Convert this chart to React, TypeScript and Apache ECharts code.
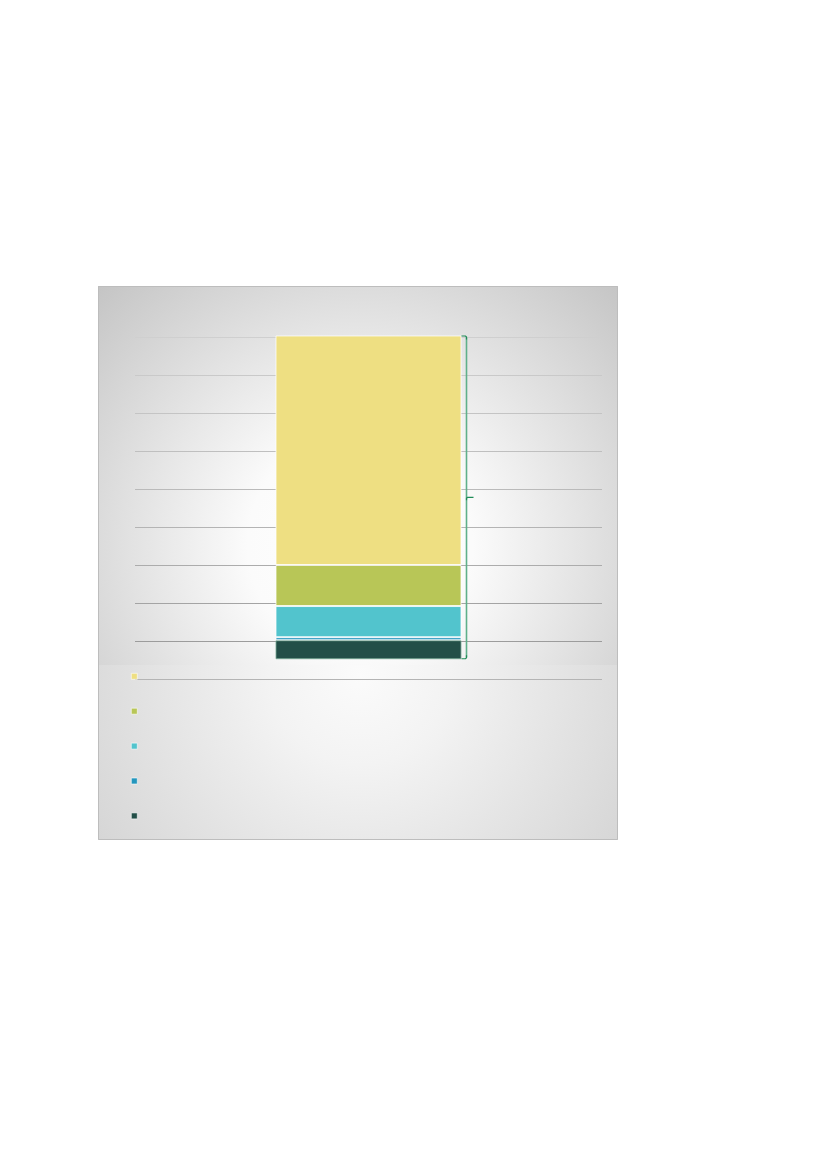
import {useEffect, useRef} from 'react';
import * as echarts from 'echarts';

// single stacked column (gridline step = 10)
const categories = ['Total'];
const seriesNames = ['Segment 1', 'Segment 2', 'Segment 3', 'Segment 4', 'Segment 5'];
const seriesValues = [5.0, 0.8, 8.2, 10.8, 60.4];
const seriesColors = ['#234f48', '#2496bd', '#52c4cd', '#b8c657', '#eedf82'];
const baseOffset = [5.2];
const axisTicks = [0, 10, 20, 30, 40, 50, 60, 70, 80, 90];

const gridColors = ['#b4b4b4', '#9c9c9c', '#a4a4a4', '#acacac', '#b4b4b4', '#bababa', '#bfbfbf', '#c4c4c4', '#c9c9c9', '#cfcfcf'];

export default function App() {
    const ref = useRef<HTMLDivElement | null>(null);

    useEffect(() => {
        if (!ref.current) return;
        const chart = echarts.init(ref.current, undefined, {renderer: 'svg'});
        const barWidth = 186;

        chart.setOption({
            animation: false,
            graphic: [
                {
                    id: 'bgTop', type: 'rect', z: -10, silent: true,
                    shape: {x: 98, y: 286, width: 520, height: 379},
                    style: {fill: new echarts.graphic.RadialGradient(360, 545, 375, [
                        {offset: 0, color: '#ffffff'},
                        {offset: 0.3, color: '#fbfbfb'},
                        {offset: 1, color: '#c3c3c3'}
                    ], true)}
                },
                {
                    id: 'bgBottom', type: 'rect', z: -10, silent: true,
                    shape: {x: 98, y: 665, width: 520, height: 175},
                    style: {fill: new echarts.graphic.RadialGradient(360, 675, 360, [
                        {offset: 0, color: '#fbfbfb'},
                        {offset: 0.25, color: '#f3f3f3'},
                        {offset: 1, color: '#cfcfcf'}
                    ], true)}
                },
                {
                    id: 'frame', type: 'rect', z: -9, silent: true,
                    shape: {x: 98.5, y: 286.5, width: 519, height: 553},
                    style: {fill: 'none', stroke: '#bdbdbd', lineWidth: 1}
                }
            ],
            grid: {left: 135, right: 225, top: 337, bottom: 490},
            legend: {
                orient: 'vertical',
                left: 131,
                top: 673,
                padding: 0,
                itemWidth: 6,
                itemHeight: 6,
                itemGap: 28.3,
                icon: 'rect',
                data: [...seriesNames].reverse(),
                formatter: () => '',
                itemStyle: {borderColor: '#ffffff', borderWidth: 0.6},
                selectedMode: false
            },
            xAxis: {
                type: 'category',
                data: categories,
                axisLine: {show: false},
                axisTick: {show: false},
                axisLabel: {show: false}
            },
            yAxis: {
                type: 'value',
                min: axisTicks[0],
                max: axisTicks[axisTicks.length - 1],
                interval: axisTicks[1] - axisTicks[0],
                axisLabel: {show: false},
                axisLine: {show: false},
                axisTick: {show: false},
                splitLine: {lineStyle: {color: gridColors, width: 1}}
            },
            series: [
                {
                    name: 'base',
                    type: 'bar',
                    stack: 'total',
                    data: baseOffset,
                    barWidth,
                    clip: false,
                    itemStyle: {color: 'transparent'},
                    silent: true
                },
                ...seriesNames.map((name, i) => ({
                    name,
                    type: 'bar',
                    stack: 'total',
                    data: [seriesValues[i]],
                    barWidth,
                    clip: false,
                    itemStyle: {
                        color: seriesColors[i],
                        borderColor: i === 0 ? 'rgba(120,170,150,0.8)' : 'rgba(255,255,255,0.75)',
                        borderWidth: 1
                    }
                }))
            ]
        });

        // bracket beside the column, placed through the axes
        const total = seriesValues.reduce((a, b) => a + b, 0);
        const yTop = chart.convertToPixel({yAxisIndex: 0}, baseOffset[0] + total) as number;
        const yBot = chart.convertToPixel({yAxisIndex: 0}, baseOffset[0]) as number;
        const xc = chart.convertToPixel({xAxisIndex: 0}, categories[0]) as number;
        const xr = xc + barWidth / 2;
        const bx = xr + 5;
        const mid = (yTop + yBot) / 2;

        chart.setOption({
            graphic: [
                {
                    id: 'brLine', type: 'line', z: 5, silent: true,
                    shape: {x1: bx, y1: yTop + 2, x2: bx, y2: yBot - 2},
                    style: {stroke: '#5fb08a', lineWidth: 1.6}
                },
                {
                    id: 'brTop', type: 'polyline', z: 6, silent: true,
                    shape: {points: [[xr, yTop + 0.5], [bx - 1, yTop + 0.5], [bx, yTop + 1.5], [bx, yTop + 4]]},
                    style: {stroke: '#1f8c57', lineWidth: 1.2, fill: 'none'}
                },
                {
                    id: 'brBottom', type: 'polyline', z: 6, silent: true,
                    shape: {points: [[xr, yBot - 0.5], [bx - 1, yBot - 0.5], [bx, yBot - 1.5], [bx, yBot - 4]]},
                    style: {stroke: '#1f8c57', lineWidth: 1.2, fill: 'none'}
                },
                {
                    id: 'brMid', type: 'polyline', z: 6, silent: true,
                    shape: {points: [[bx, mid + 3], [bx, mid + 1], [bx + 1, mid], [bx + 7, mid]]},
                    style: {stroke: '#1f8c57', lineWidth: 1.2, fill: 'none'}
                }
            ]
        });

        return () => chart.dispose();
    }, []);

    return (
        <div
            ref={ref}
            style={{position: 'absolute', left: 0, top: 0, width: 827, height: 1169, background: '#ffffff'}}
        />
    );
}
